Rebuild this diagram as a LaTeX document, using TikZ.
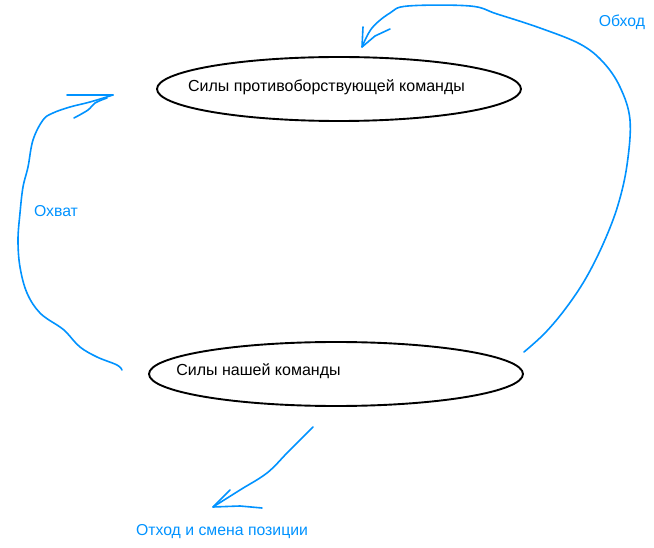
\documentclass[tikz,border=0pt]{standalone}
\usepackage{fontspec}
\setmainfont{Liberation Sans}
\definecolor{pen}{RGB}{0,146,255}
\begin{document}
\begin{tikzpicture}[x=1pt,y=-1pt,
  stroke/.style={draw=pen,line width=1.6pt,line cap=round,line join=round},
  lbl/.style={text=pen,font=\fontsize{15.8}{18}\selectfont,inner sep=0pt},
  tlbl/.style={text=black,font=\fontsize{16}{18}\selectfont,inner sep=0pt}]
\useasboundingbox (0,0) rectangle (654,548);
\draw[line width=1.9pt] (339,89) ellipse [x radius=182, y radius=32];
\node[tlbl] (enemy) at (326.5,87) {Силы противоборствующей команды};
\draw[line width=1.9pt] (336,374) ellipse [x radius=187, y radius=32];
\node[tlbl] (ours) at (258.5,371) {Силы нашей команды};
\node[lbl] (obhod) at (622,22) {Обход};
\node[lbl] (ohvat) at (56,211) {Охват};
\node[lbl] (othod) at (222,532) {Отход и смена позиции};
% Obhod
\draw[stroke] plot[smooth,tension=0.6] coordinates {(524,352) (545,333) (566,308) (586,278) (604,242) (618,205) (627,165) (630,120) (620,87) (603,62) (580,44) (540,28) (497,14) (470,6) (408,6) (390,13) (372,28) (362,47)};
\draw[stroke] (363,27) -- (362,47) -- (375,36) -- (390,29);
% Ohvat
\draw[stroke] plot[smooth,tension=0.6] coordinates {(122,370) (117,365) (97,357) (80,347) (67,333) (60,327) (40,313) (27,293) (20,267) (18,240) (20,213) (23,187) (28,167) (33,140) (43,120) (53,113) (70,107) (90,102) (113,95)};
\draw[stroke] (67,95) -- (113,95);
\draw[stroke] plot[smooth,tension=0.6] coordinates {(107,98) (95,103) (88,110) (74,118)};
% Othod
\draw[stroke] plot[smooth,tension=0.6] coordinates {(313,427) (300,440) (287,453) (267,473) (240,490) (213,507)};
\draw[stroke] (230,490) -- (213,507) -- (240,506) -- (262,508);
\end{tikzpicture}
\end{document}
